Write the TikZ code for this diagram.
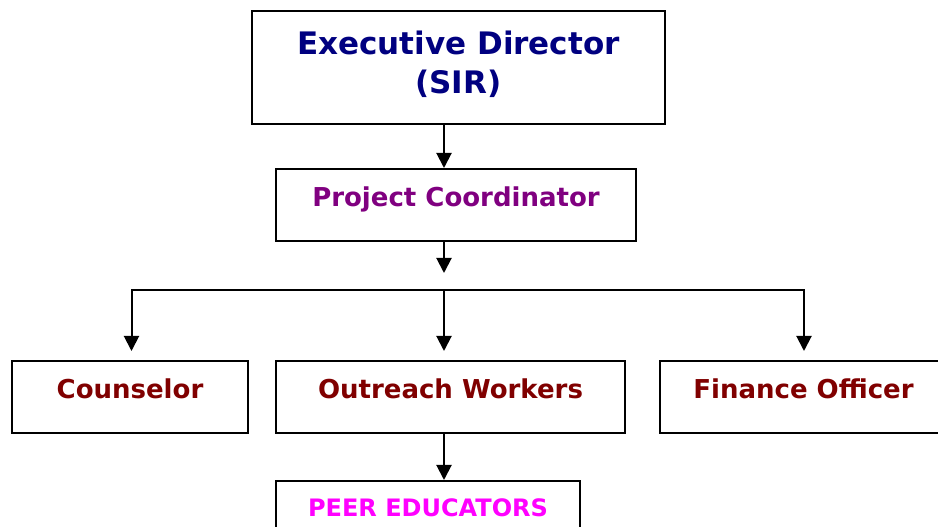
\documentclass[tikz,border=0pt]{standalone}
\usepackage{fontspec}
\setmainfont{DejaVu Sans}
\usetikzlibrary{arrows.meta}
\definecolor{edblue}{RGB}{0,0,128}
\definecolor{pcpurple}{RGB}{128,0,128}
\definecolor{staffred}{RGB}{128,0,0}
\definecolor{peerpink}{RGB}{255,0,255}
\begin{document}
\begin{tikzpicture}[x=1pt, y=1pt,
    box/.style={draw, line width=2pt, inner sep=0pt, minimum height=72pt,
                text height=19pt, text depth=16pt,
                font=\bfseries\fontsize{26pt}{30pt}\selectfont},
    link/.style={line width=2pt, -{Triangle[width=15pt, length=15pt]}}]
  \clip (0,0) rectangle (938,527);

  % top of the chart
  \node[box, minimum width=413pt, minimum height=113pt, align=center,
        text height=60pt, text depth=8pt,
        font=\bfseries\fontsize{31pt}{39pt}\selectfont, text=edblue]
        (director) at (458.5,459.5) {Executive Director\\(SIR)};
  \node[box, minimum width=360pt, text=pcpurple] (coord) at (456,322) {Project Coordinator};

  % staff row
  \node[box, minimum width=236pt, text=staffred] (counsel) at (130,130) {Counselor};
  \node[box, minimum width=349pt, text=staffred] (outreach) at (450.5,130) {Outreach Workers};
  \node[box, minimum width=287pt, text=staffred] (finance) at (803.5,130) {Finance Officer};
  \node[box, minimum width=304pt, text height=17.5pt, text depth=18pt,
        font=\bfseries\fontsize{24pt}{28pt}\selectfont, text=peerpink]
        (peer) at (428,10) {PEER EDUCATORS};

  % the spine and the bar that splits to the staff
  \coordinate (spine) at (444,237);
  \coordinate (split) at (444,254);
  \coordinate (barleft) at (131.5,237);
  \coordinate (barright) at (804,237);

  \draw[link] (director.south -| spine) -- (coord.north -| spine);
  \draw[link] (coord.south -| spine) -- (split);
  \draw[link, {Triangle[width=15pt, length=15pt]}-{Triangle[width=15pt, length=15pt]},
        shorten <=9pt, shorten >=9pt]
    (counsel.north -| barleft) -- (barleft) -- (barright) -- (finance.north -| barright);
  \draw[link, shorten >=9pt] (spine) -- (outreach.north -| spine);
  \draw[link] (outreach.south -| spine) -- (peer.north -| spine);
\end{tikzpicture}
\end{document}
